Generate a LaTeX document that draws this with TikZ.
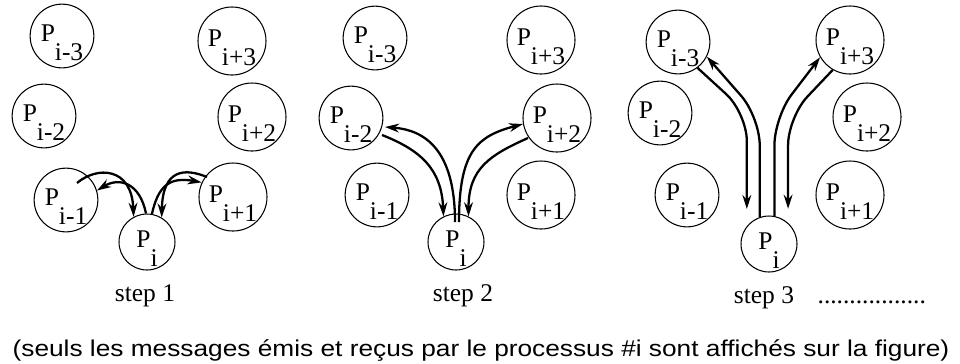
\documentclass[tikz,border=0pt]{standalone}
\usepackage{fontspec}
\setmainfont{Liberation Serif}
\newfontfamily\capfont[FakeStretch=1.15]{Liberation Sans}
\usetikzlibrary{positioning}
\usetikzlibrary{arrows.meta}
\tikzset{every picture/.style={line width=0.6pt}}
\newcommand{\pname}[1]{P\raisebox{-0.74em}{#1}}

\begin{document}
\begin{tikzpicture}[x=0.02cm, y=-0.02cm,
every node/.style={font=\fontsize{14.5}{16}\selectfont},
proc/.style={circle, draw, inner sep=0pt, minimum size=1.12cm, text height=16.8pt, text depth=10.4pt},
msg/.style={line width=1.3pt, -{Stealth[length=8pt,width=5pt]}},
lbl/.style={inner sep=0pt}]

\useasboundingbox (0,0) rectangle (960,363);

% the processes, one group per step
\foreach \n/\x/\y/\t in {s1m3/62/36/i-3, s1p3/232/41/i+3, s1m2/44/116/i-2, s1p2/252/117/i+2,
    s1m1/66/200/i-1, s1p1/233/197/i+1, s1i/147/242/i,
    s2m3/375/38/i-3, s2p3/541/40/i+3, s2m2/351/118/i-2, s2p2/557/118/i+2,
    s2m1/377/195/i-1, s2p1/541/195/i+1, s2i/456/242/i,
    s3m3/678/42/i-3, s3p3/850/40/i+3, s3m2/660/113/i-2, s3p2/867/117/i+2,
    s3m1/687/195/i-1, s3p1/850/195/i+1, s3i/769/244/i}
  \node[proc] (\n) at (\x,\y) {\pname{\t}};

% step labels
\foreach \s/\d in {1/-2,2/7,3/-5}
  \node[lbl] (step\s) [below=0.28cm of s\s i, xshift=\d*0.02cm] {step \s};
\node[lbl] (more) [base right=0.45cm of step3] {.................};

% step 1
\draw[msg] ([shift={(11,-17)}]s1m1.center) .. controls +(20,-17) and +(-2,-50) .. (s1i.118);
\draw[msg] (s1i.92) .. controls +(-6,-30) and +(23,-14) .. (s1m1.17);
\draw[msg] (s1i.80) .. controls +(6,-27) and +(-33,-6) .. (s1p1.155);
\draw[msg] ([shift={(-26,-20)}]s1p1.center) .. controls +(-22,-9) and +(1,-49) .. (s1i.59);

% step 2
\draw[msg] ([shift={(31,17)}]s2m2.center) .. controls +(38,15) and +(-2,-48) .. (s2i.116);
\draw[msg] ([shift={(-1,-20)}]s2i.center) .. controls +(0,-72) and +(40,3) .. ([shift={(34,9)}]s2m2.center);
\draw[msg] ([shift={(3,-20)}]s2i.center) .. controls +(0,-72) and +(-45,12) .. (s2p2.190);
\draw[msg] ([shift={(-29,20)}]s2p2.center) .. controls +(-38,17) and +(0,-48) .. (s2i.64);

% step 3
\draw[msg, rounded corners=16pt, shorten >=0.34cm] (s3m3.-53) -- (s3i.141 |- s3m2) -- (s3i.141);
\draw[msg, rounded corners=16pt] (s3i.109) -- (s3i.109 |- s3p2) -- (s3m3.-27);
\draw[msg, rounded corners=16pt] (s3i.79) -- (s3i.79 |- s3p2) -- (s3p3.210);
\draw[msg, rounded corners=16pt, shorten >=0.28cm] (s3p3.240) -- (s3i.48 |- s3p2) -- (s3i.48);

\node[lbl, anchor=base] (caption) at (481,356) {\capfont\fontsize{13}{15}\selectfont (seuls les messages émis et reçus par le processus \#i sont affichés sur la figure)};

\end{tikzpicture}
\end{document}
